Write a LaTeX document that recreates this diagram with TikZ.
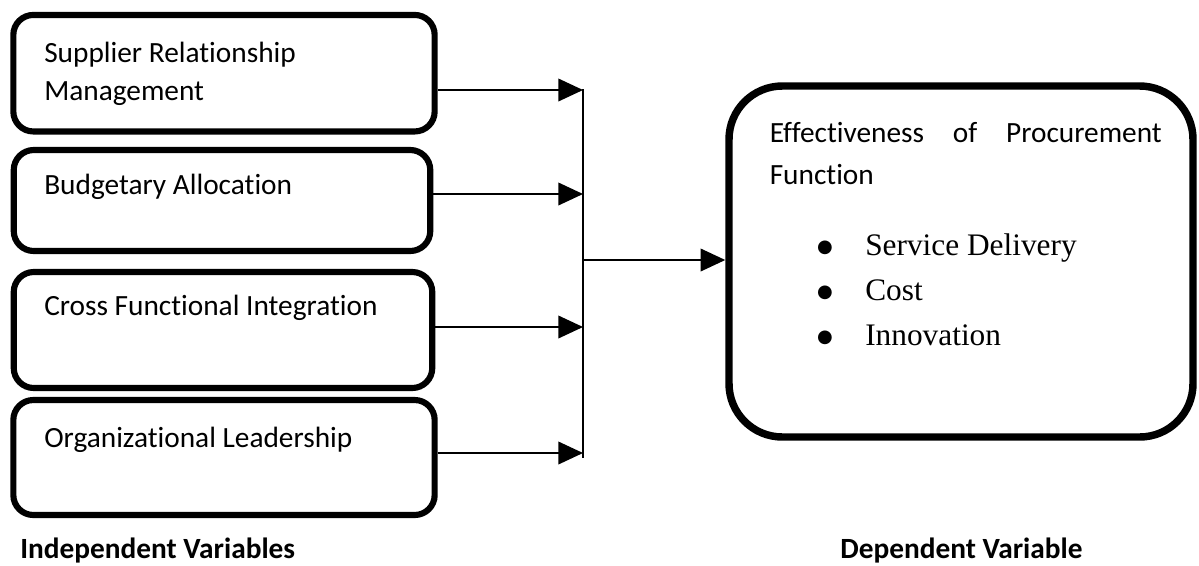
\documentclass[tikz,border=0pt]{standalone}
\usepackage{fontspec}
\setmainfont{Carlito}[Ligatures=NoCommon]
\newfontfamily\serifrm{Liberation Serif}
\newfontfamily\symfont{DejaVu Sans}
\usetikzlibrary{arrows.meta}
\begin{document}
\begin{tikzpicture}[x=0.75pt,y=-0.75pt,
  lbox/.style={draw=black, line width=4.6pt, rounded corners=15pt, inner sep=0pt, fill=white},
  rbox/.style={draw=black, line width=5.6pt, rounded corners=40pt, inner sep=0pt, fill=white},
  lbl/.style={anchor=base west, inner sep=0pt, font=\fontsize{22}{28}\selectfont},
  hdr/.style={anchor=base west, inner sep=0pt, font=\fontsize{22}{28}\selectfont\bfseries},
  itm/.style={anchor=base west, inner sep=0pt, font=\fontsize{23.5}{28}\selectfont\serifrm},
  bul/.style={anchor=base, inner sep=0pt, font=\fontsize{13.5}{16}\selectfont\symfont},
  arr/.style={line width=1.2pt, -{Triangle[length=18.5pt,width=17pt]}},
  conn/.style={line width=1pt}]
\useasboundingbox (0,0) rectangle (1199,565);
% independent variable boxes
\node[lbox, minimum width=316pt, minimum height=87.4pt] (b1) at (224,73.2) {};
\node[lbox, minimum width=312.4pt, minimum height=75.75pt] (b2) at (222,200.5) {};
\node[lbox, minimum width=313.9pt, minimum height=87pt] (b3) at (223,330) {};
\node[lbox, minimum width=316pt, minimum height=86.25pt] (b4) at (224,457.5) {};
% dependent variable box
\node[rbox, minimum width=348pt, minimum height=263.25pt] (rb) at (961,261.5) {};
% texts
\node[lbl] (t1a) at (44,62) {Supplier Relationship};
\node[lbl] (t1b) at (44,100) {Management};
\node[lbl] (t2) at (44,194) {Budgetary Allocation};
\node[lbl] (t3) at (44,315) {Cross Functional Integration};
\node[lbl] (t4) at (44,447) {Organizational Leadership};
\node[hdr] (h1) at (20,558) {Independent Variables};
\node[hdr] (h2) at (840,558) {Dependent Variable};
\node[lbl] (e1) at (769.5,142) {\makebox[294pt][s]{Effectiveness\hfill of\hfill Procurement}};
\node[lbl] (e2) at (769.5,184) {Function};
\node[itm] (s1) at (865,255) {Service Delivery};
\node[itm] (s2) at (865,300) {Cost};
\node[itm] (s3) at (865,345) {Innovation};
\node[bul] (d1) at (825,252) {●};
\node[bul] (d2) at (825,297) {●};
\node[bul] (d3) at (825,342) {●};
% connectors
\coordinate (j1) at (583,90);
\coordinate (j2) at (583,194);
\coordinate (j3) at (583,327);
\coordinate (j4) at (583,453);
\coordinate (jt) at (583,89);
\coordinate (jb) at (583,458);
\coordinate (jm) at (583,260);
\draw[arr] (b1.east |- j1) -- (j1);
\draw[arr] (b2.east |- j2) -- (j2);
\draw[arr] (b3.east |- j3) -- (j3);
\draw[arr] (b4.east |- j4) -- (j4);
\draw[conn] (jt) -- (jb);
\draw[arr] (jm) -- (rb.west |- jm);
\end{tikzpicture}
\end{document}
